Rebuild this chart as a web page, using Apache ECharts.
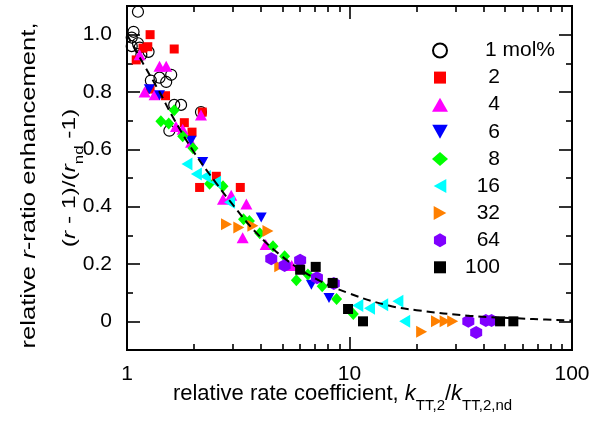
<!DOCTYPE html>
<html>
<head>
<meta charset="utf-8">
<script src="https://cdn.jsdelivr.net/npm/echarts@6/dist/echarts.min.js"></script>
<style>html,body{margin:0;padding:0;background:#fff}#c{width:614px;height:430px}</style>
</head>
<body>
<div id="c"></div>
<script>
// ---- data ----
const legendNames = ['1 mol%', '2', '4', '6', '8', '16', '32', '64', '100'];
const s1 = [[1.12,1.08],[1.07,1.01],[1.05,0.99],[1.12,0.97],[1.05,0.96],[1.14,0.955],[1.25,0.94],[1.16,0.93],[1.28,0.84],[1.40,0.85],[1.50,0.835],[1.58,0.86],[1.63,0.755],[1.75,0.755],[2.15,0.73],[1.55,0.665]];
const s2 = [[1.27,1.0],[1.24,0.958],[1.18,0.953],[1.10,0.912],[1.63,0.95],[1.27,0.81],[1.49,0.787],[2.18,0.73],[1.81,0.693],[1.96,0.66],[2.52,0.506],[2.12,0.467],[3.23,0.467]];
const s4 = [[1.14,0.93],[1.40,0.89],[1.50,0.89],[1.20,0.80],[1.33,0.79],[2.15,0.72],[1.66,0.68],[1.78,0.67],[1.94,0.625],[2.70,0.426],[2.94,0.44],[3.44,0.409],[3.31,0.292],[4.20,0.268],[5.5,0.195]];
const s6 = [[1.26,0.81],[1.40,0.789],[2.19,0.556],[1.94,0.63],[4.01,0.362],[6.74,0.128],[8.09,0.081]];
const s8 = [[1.63,0.736],[1.42,0.698],[1.54,0.69],[1.78,0.646],[1.98,0.604],[2.35,0.48],[2.70,0.471],[3.34,0.356],[3.55,0.35],[3.95,0.307],[4.53,0.262],[5.11,0.227],[5.77,0.143],[6.5,0.163],[7.54,0.122],[8.75,0.078],[10.4,0.026]];
const s16 = [[1.86,0.549],[2.05,0.514],[2.25,0.505],[2.50,0.485],[2.89,0.415],[10.9,0.055],[12.3,0.046],[14.1,0.058],[16.5,0.07],[17.7,0.0]];
const s32 = [[2.80,0.339],[3.18,0.327],[3.68,0.333],[4.30,0.315],[4.86,0.192],[21.1,-0.036],[24.6,0.0],[26.9,0.0],[29.1,0.0]];
const s64 = [[4.45,0.218],[5.11,0.195],[6.0,0.213],[7.14,0.152],[8.5,0.132],[34.2,0.0],[37.1,-0.039],[41.0,0.003],[43.5,0.003]];
const s100 = [[6.0,0.18],[7.05,0.19],[8.4,0.134],[9.85,0.043],[11.5,0.0],[47.5,0.0],[54.5,0.0]];
const fitCurve = [[1,1.0],[1.18,0.90],[1.4,0.80],[1.6,0.715],[2.0,0.59],[2.5,0.485],[3.0,0.405],[3.8,0.31],[5.0,0.225],[7.0,0.15],[10,0.097],[15,0.055],[20,0.039],[35,0.019],[67,0.008],[100,0.003]];
const xMajor = [1, 10, 100];
const xMinor = [2,3,4,5,6,7,8,9,20,30,40,50,60,70,80,90];
const yMajor = [0, 0.2, 0.4, 0.6, 0.8, 1.0];
const yMinor = [0.1, 0.3, 0.5, 0.7, 0.9];

const FONT = "'Liberation Sans', Arial, Helvetica, sans-serif";
const chart = echarts.init(document.getElementById('c'), null, {renderer: 'canvas'});

const P_DOWN = 'path://M0,0 L10,0 L5,9 Z';
const P_LEFT = 'path://M9,0 L9,10 L0,5 Z';
const P_RIGHT = 'path://M0,0 L9,5 L0,10 Z';
const P_HEX = 'path://M5,0 L9.33,2.5 L9.33,7.5 L5,10 L0.67,7.5 L0.67,2.5 Z';
const P_SQ_LEG = 'path://M-1,-1 M13,13 M0,0 L12,0 L12,12 L0,12 Z';

function lg(v) { return Math.log10(v); }

function xTickAxis(pos, vals, len, labels) {
  return {
    type: 'value', min: 0, max: 2, position: pos,
    axisLine: {show: true, onZero: false, lineStyle: {color: '#000', width: 2}},
    axisTick: {show: true, inside: true, length: len, customValues: vals.map(lg), lineStyle: {color: '#000', width: 1.6}},
    axisLabel: labels ? {show: true, customValues: vals.map(lg), margin: 14, fontSize: 21, fontFamily: FONT, color: '#000',
      formatter: v => String(Math.round(Math.pow(10, v)))} : {show: false},
    splitLine: {show: false}
  };
}
function yTickAxis(pos, vals, len, labels) {
  return {
    type: 'value', min: -0.1, max: 1.1, position: pos,
    axisLine: {show: true, onZero: false, lineStyle: {color: '#000', width: 2}},
    axisTick: {show: true, inside: true, length: len, customValues: vals, lineStyle: {color: '#000', width: 1.6}},
    axisLabel: labels ? {show: true, customValues: vals, margin: 15, fontSize: 21, fontFamily: FONT, color: '#000',
      formatter: v => (Math.abs(v) < 1e-9 ? '0' : v.toFixed(1))} : {show: false},
    splitLine: {show: false}
  };
}

function sc(name, data, symbol, size, color, extra) {
  return Object.assign({
    name: name, type: 'scatter', data: data, symbol: symbol, symbolSize: size,
    xAxisIndex: 0, yAxisIndex: 0,
    itemStyle: {color: color, opacity: 1},
    emphasis: {disabled: true}
  }, extra || {});
}

function tok(size, extra) {
  return Object.assign({fontSize: size, fontFamily: FONT, fill: '#000', color: '#000', align: 'left'}, extra || {});
}

const option = {
  animation: false,
  backgroundColor: '#fff',
  grid: {left: 127, right: 42, top: 6, bottom: 80, containLabel: false},
  xAxis: [
    {type: 'log', logBase: 10, min: 1, max: 100, show: false},
    xTickAxis('bottom', xMajor, 13, true),
    xTickAxis('bottom', xMinor, 6, false),
    xTickAxis('top', xMajor, 13, false),
    xTickAxis('top', xMinor, 6, false)
  ],
  yAxis: [
    {type: 'value', min: -0.1, max: 1.1, show: false},
    yTickAxis('left', yMajor, 13, true),
    yTickAxis('left', yMinor, 6, false),
    yTickAxis('right', yMajor, 13, false),
    yTickAxis('right', yMinor, 6, false)
  ],
  legend: {
    left: 432, top: 40, orient: 'vertical', padding: 0,
    itemWidth: 16, itemHeight: 14, itemGap: 6.1,
    selectedMode: false,
    data: [
      {name: '1 mol%', icon: 'circle'},
      {name: '2', icon: P_SQ_LEG},
      {name: '4', icon: 'triangle'},
      {name: '6', icon: P_DOWN},
      {name: '8', icon: 'diamond'},
      {name: '16', icon: P_LEFT},
      {name: '32', icon: P_RIGHT},
      {name: '64', icon: P_HEX},
      {name: '100', icon: P_SQ_LEG}
    ],
    formatter: function (name) {
      return name.indexOf(' ') > 0 ? '{p| }{m|' + name + '}' : '{n|' + name + '}';
    },
    textStyle: {
      fontSize: 21, fontFamily: FONT, color: '#000',
      rich: {
        n: {width: 47, align: 'right', fontSize: 21, fontFamily: FONT, color: '#000'},
        p: {width: 32, align: 'left', fontSize: 21, fontFamily: FONT, color: '#000'},
        m: {align: 'left', fontSize: 21, fontFamily: FONT, color: '#000'}
      }
    }
  },
  graphic: [
    {type: 'text', x: 29, y: 185.5, rotation: Math.PI / 2, scaleX: 1.22, z: 100,
      style: {text: '{a|relative }{i|r}{a|-ratio enhancement,}', fontSize: 21, fontFamily: FONT, fill: '#000', align: 'center', verticalAlign: 'middle',
        rich: {a: tok(21), i: tok(21, {fontStyle: 'italic'})}}},
    {type: 'text', x: 70, y: 178, rotation: Math.PI / 2, scaleX: 1.29, z: 100,
      style: {text: '{a|(}{i|r}{a| - 1)/(}{i|r}{s|nd}{a| -1)}', fontSize: 19, fontFamily: FONT, fill: '#000', align: 'center', verticalAlign: 'middle',
        rich: {a: tok(19, {lineHeight: 32}), i: tok(19, {fontStyle: 'italic', lineHeight: 32}),
               s: tok(13, {lineHeight: 12, verticalAlign: 'bottom'})}}},
    {type: 'text', x: 342.5, y: 394, z: 100,
      style: {text: '{a|relative rate coefficient, }{i|k}{s|TT,2}{a|/}{i|k}{s|TT,2,nd}', fontSize: 22, fontFamily: FONT, fill: '#000', align: 'center', verticalAlign: 'middle',
        rich: {a: tok(22, {lineHeight: 38}), i: tok(22, {fontStyle: 'italic', lineHeight: 38}),
               s: tok(15, {lineHeight: 14, verticalAlign: 'bottom'})}}}
  ],
  series: [
    sc('1 mol%', s1, 'circle', 11, 'rgba(0,0,0,0)', {itemStyle: {color: 'rgba(0,0,0,0)', borderColor: '#000', borderWidth: 1.2, opacity: 1}}),
    sc('2', s2, 'rect', 9, '#ff0000'),
    sc('4', s4, 'triangle', [12, 11], '#ff00ff'),
    sc('6', s6, P_DOWN, [11, 10], '#0000ff'),
    sc('8', s8, 'diamond', [11, 12], '#00ff00'),
    sc('16', s16, P_LEFT, [11, 13], '#00ffff'),
    sc('32', s32, P_RIGHT, [11, 12], '#ff8000'),
    sc('64', s64, P_HEX, [12, 13], '#8000ff'),
    sc('100', s100, 'rect', 10, '#000000'),
    {name: 'fit', type: 'line', data: fitCurve, xAxisIndex: 0, yAxisIndex: 0, smooth: 0.4, showSymbol: false, symbol: 'none', z: 10,
      lineStyle: {color: '#000', width: 2, type: [8, 5]}, emphasis: {disabled: true}}
  ]
};
chart.setOption(option);
</script>
</body>
</html>
